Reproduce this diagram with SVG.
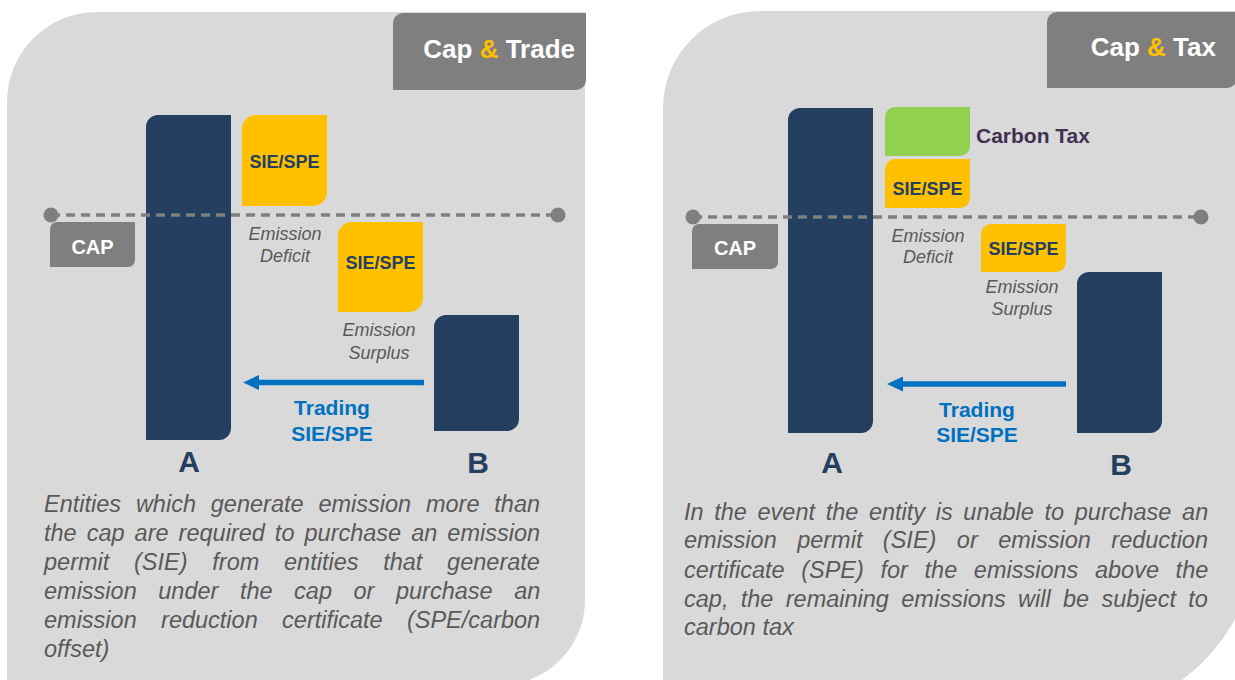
<svg xmlns="http://www.w3.org/2000/svg" width="1235" height="680" viewBox="0 0 1235 680">
  <style>
    .panel { fill: #d9d9d9; }
    .title-box { fill: #7f7f7f; }
    .title { font-family: "Liberation Sans", Arial, sans-serif; font-weight: bold; font-size: 26px; fill: #ffffff; text-anchor: end; }
    .amp { fill: #ffc000; }
    .bar { fill: #243f60; }
    .permit { fill: #ffc000; }
    .tax { fill: #92d050; }
    .cap-box { fill: #7f7f7f; }
    .cap-text { font-family: "Liberation Sans", Arial, sans-serif; font-weight: bold; font-size: 20px; fill: #ffffff; text-anchor: middle; }
    .permit-text { font-family: "Liberation Sans", Arial, sans-serif; font-weight: bold; font-size: 18px; fill: #243f60; text-anchor: middle; }
    .note { font-family: "Liberation Sans", Arial, sans-serif; font-style: italic; font-size: 18px; fill: #595959; text-anchor: middle; }
    .trade { font-family: "Liberation Sans", Arial, sans-serif; font-weight: bold; font-size: 21px; fill: #0070c0; text-anchor: middle; }
    .entity { font-family: "Liberation Sans", Arial, sans-serif; font-weight: bold; font-size: 30px; fill: #243f60; text-anchor: middle; }
    .tax-text { font-family: "Liberation Sans", Arial, sans-serif; font-weight: bold; font-size: 21px; fill: #3f3151; }
    .para { font-family: "Liberation Sans", Arial, sans-serif; font-style: italic; font-size: 23.5px; fill: #595959; }
    .cap-line { stroke: #7f7f7f; stroke-width: 3.5; stroke-dasharray: 9 6; fill: none; }
    .cap-dot { fill: #7f7f7f; }
    .flow { stroke: #0070c0; stroke-width: 5.5; fill: none; }
  </style>
  <defs>
    <marker id="flow-head" viewBox="0 0 16 15" markerWidth="16" markerHeight="15" refX="9" refY="7.5" orient="auto" markerUnits="userSpaceOnUse">
      <path d="M0,0 L16,7.5 L0,15 Z" fill="#0070c0"/>
    </marker>
  </defs>

  <!-- Cap & Trade panel -->
  <g id="panel-trade">
    <path class="panel" d="M7,102 A90,90 0 0 1 97,12 H585 V600 A85,85 0 0 1 500,685 H7 Z"/>
    <path class="title-box" d="M403,13 H586 V80 A10,10 0 0 1 576,90 H393 V23 A10,10 0 0 1 403,13 Z"/>
    <text class="title" x="575" y="58">Cap <tspan class="amp">&amp;</tspan> Trade</text>
  </g>

  <!-- Cap & Tax panel -->
  <g id="panel-tax">
    <path class="panel" d="M663,108 A97,97 0 0 1 760,11 H1258 V529 A188,188 0 0 1 1070,717 H663 Z"/>
    <path class="title-box" d="M1057,12 H1237 V78 A10,10 0 0 1 1227,88 H1047 V22 A10,10 0 0 1 1057,12 Z"/>
    <text class="title" x="1216" y="56">Cap <tspan class="amp">&amp;</tspan> Tax</text>
  </g>

  <!-- Left panel nodes -->
  <g id="trade-entity-a">
    <path class="bar" d="M158,115 H231 V428 A12,12 0 0 1 219,440 H146 V127 A12,12 0 0 1 158,115 Z"/>
    <text class="entity" x="189" y="472">A</text>
  </g>
  <g id="trade-deficit-permit">
    <path class="permit" d="M256,115 H327 V192 A14,14 0 0 1 313,206 H242 V129 A14,14 0 0 1 256,115 Z"/>
    <text class="permit-text" x="284.5" y="168">SIE/SPE</text>
  </g>
  <g id="trade-deficit-label">
    <text class="note" x="285" y="240">Emission</text>
    <text class="note" x="285" y="262">Deficit</text>
  </g>
  <g id="trade-surplus-permit">
    <path class="permit" d="M352,222 H423 V298 A14,14 0 0 1 409,312 H338 V236 A14,14 0 0 1 352,222 Z"/>
    <text class="permit-text" x="380.5" y="269">SIE/SPE</text>
  </g>
  <g id="trade-surplus-label">
    <text class="note" x="379" y="336">Emission</text>
    <text class="note" x="379" y="359">Surplus</text>
  </g>
  <g id="trade-entity-b">
    <path class="bar" d="M446,315 H519 V419 A12,12 0 0 1 507,431 H434 V327 A12,12 0 0 1 446,315 Z"/>
    <text class="entity" x="478" y="473">B</text>
  </g>
  <g id="trade-cap">
    <path class="cap-box" d="M57,222 H135 V260 A7,7 0 0 1 128,267 H50 V229 A7,7 0 0 1 57,222 Z"/>
    <text class="cap-text" x="92.5" y="254">CAP</text>
    <line class="cap-line" x1="51" y1="215" x2="558" y2="215"/>
    <circle class="cap-dot" cx="51" cy="215" r="7.5"/>
    <circle class="cap-dot" cx="558" cy="215" r="7.5"/>
  </g>
  <g id="trade-label">
    <text class="trade" x="332" y="415">Trading</text>
    <text class="trade" x="332" y="441">SIE/SPE</text>
  </g>
  <g id="trade-description">
    <text class="para" x="44" y="512" style="word-spacing:8.3px">Entities which generate emission more than</text>
    <text class="para" x="44" y="541" style="word-spacing:3.5px">the cap are required to purchase an emission</text>
    <text class="para" x="44" y="570" style="word-spacing:18.2px">permit (SIE) from entities that generate</text>
    <text class="para" x="44" y="599" style="word-spacing:15px">emission under the cap or purchase an</text>
    <text class="para" x="44" y="628" style="word-spacing:17.8px">emission reduction certificate (SPE/carbon</text>
    <text class="para" x="44" y="657">offset)</text>
  </g>

  <!-- Right panel nodes -->
  <g id="tax-entity-a">
    <path class="bar" d="M800,108 H873 V421 A12,12 0 0 1 861,433 H788 V120 A12,12 0 0 1 800,108 Z"/>
    <text class="entity" x="832" y="473">A</text>
  </g>
  <g id="tax-carbon">
    <path class="tax" d="M895,107 H970 V146 A10,10 0 0 1 960,156 H885 V117 A10,10 0 0 1 895,107 Z"/>
    <text class="tax-text" x="976" y="143">Carbon Tax</text>
  </g>
  <g id="tax-deficit-permit">
    <path class="permit" d="M895,159 H970 V198 A10,10 0 0 1 960,208 H885 V169 A10,10 0 0 1 895,159 Z"/>
    <text class="permit-text" x="927.5" y="195">SIE/SPE</text>
  </g>
  <g id="tax-deficit-label">
    <text class="note" x="928" y="242">Emission</text>
    <text class="note" x="928" y="263">Deficit</text>
  </g>
  <g id="tax-surplus-permit">
    <path class="permit" d="M991,224 H1066 V262 A10,10 0 0 1 1056,272 H981 V234 A10,10 0 0 1 991,224 Z"/>
    <text class="permit-text" x="1023.5" y="255">SIE/SPE</text>
  </g>
  <g id="tax-surplus-label">
    <text class="note" x="1022" y="293">Emission</text>
    <text class="note" x="1022" y="315">Surplus</text>
  </g>
  <g id="tax-entity-b">
    <path class="bar" d="M1089,272 H1162 V421 A12,12 0 0 1 1150,433 H1077 V284 A12,12 0 0 1 1089,272 Z"/>
    <text class="entity" x="1121" y="475">B</text>
  </g>
  <g id="tax-cap">
    <path class="cap-box" d="M699,224 H778 V262 A7,7 0 0 1 771,269 H692 V231 A7,7 0 0 1 699,224 Z"/>
    <text class="cap-text" x="735" y="255">CAP</text>
    <line class="cap-line" x1="693" y1="217" x2="1201" y2="217"/>
    <circle class="cap-dot" cx="693" cy="217" r="7.5"/>
    <circle class="cap-dot" cx="1201" cy="217" r="7.5"/>
  </g>
  <g id="tax-label">
    <text class="trade" x="977" y="417">Trading</text>
    <text class="trade" x="977" y="442">SIE/SPE</text>
  </g>
  <g id="tax-description">
    <text class="para" x="684" y="520" style="word-spacing:4.1px">In the event the entity is unable to purchase an</text>
    <text class="para" x="684" y="548" style="word-spacing:13.9px">emission permit (SIE) or emission reduction</text>
    <text class="para" x="684" y="578" style="word-spacing:10.1px">certificate (SPE) for the emissions above the</text>
    <text class="para" x="684" y="607" style="word-spacing:5.8px">cap, the remaining emissions will be subject to</text>
    <text class="para" x="684" y="635">carbon tax</text>
  </g>

  <!-- Trading connectors: B hands permits over to A -->
  <g id="connectors">
    <line class="flow" x1="424" y1="382.5" x2="250" y2="382.5" marker-end="url(#flow-head)"/>
    <line class="flow" x1="1066" y1="384" x2="894" y2="384" marker-end="url(#flow-head)"/>
  </g>
</svg>
